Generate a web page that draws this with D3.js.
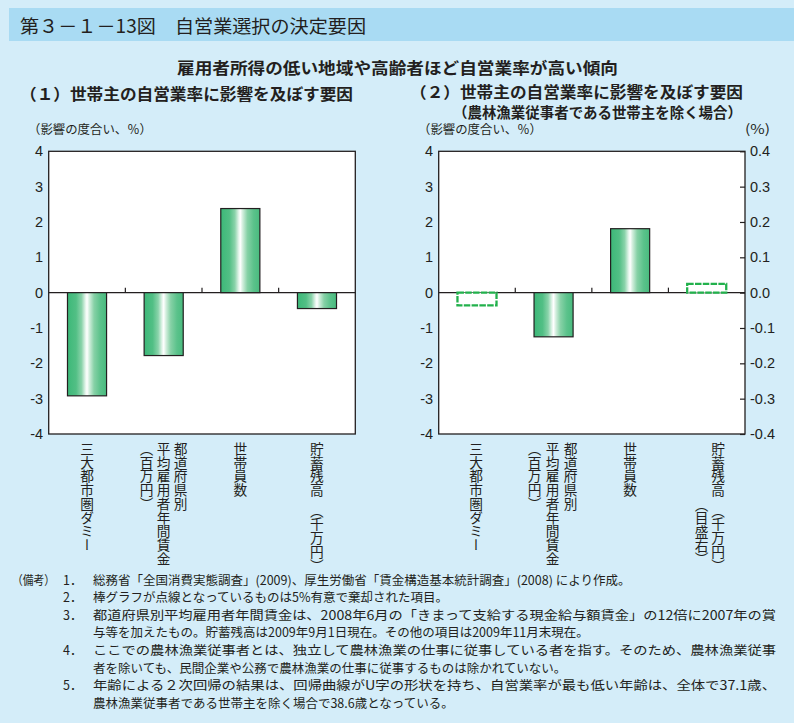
<!DOCTYPE html>
<html><head><meta charset="utf-8">
<script src="https://cdn.jsdelivr.net/npm/d3@7"></script>
<style>
body{margin:0;background:#d4edf9;}
svg{display:block}
</style>
</head><body>
<svg id="c" width="794" height="723"></svg>
<script>
// ---------- data ----------
const categories = ["三大都市圏ダミー", "都道府県別平均雇用者年間賃金（百万円）", "世帯員数", "貯蓄残高（千万円）"];
const values1 = [-2.92, -1.78, 2.38, -0.45];
const significant1 = [true, true, true, true];
const values2 = [-0.36, -1.25, 1.81, 0.025];
const significant2 = [false, true, true, false];
const rightAxis2 = [false, false, false, true];
const leftTicks = [-4, -3, -2, -1, 0, 1, 2, 3, 4];
const rightTicks = [-0.4, -0.3, -0.2, -0.1, 0, 0.1, 0.2, 0.3, 0.4];
const labelCols1 = [["三大都市圏ダミー"], ["都道府県別", "平均雇用者年間賃金", "（百万円）"], ["世帯員数"], ["貯蓄残高　（千万円）"]];
const labelCols2 = [["三大都市圏ダミー"], ["都道府県別", "平均雇用者年間賃金", "（百万円）"], ["世帯員数"], ["貯蓄残高　（千万円）", "（目盛右）"]];
const notes = [
  ["1．", "総務省「全国消費実態調査」(2009)、厚生労働省「賃金構造基本統計調査」(2008) により作成。"],
  ["2．", "棒グラフが点線となっているものは5%有意で棄却された項目。"],
  ["3．", "都道府県別平均雇用者年間賃金は、2008年6月の「きまって支給する現金給与額賃金」の12倍に2007年の賞"],
  ["", "与等を加えたもの。貯蓄残高は2009年9月1日現在。その他の項目は2009年11月末現在。"],
  ["4．", "ここでの農林漁業従事者とは、独立して農林漁業の仕事に従事している者を指す。そのため、農林漁業従事"],
  ["", "者を除いても、民間企業や公務で農林漁業の仕事に従事するものは除かれていない。"],
  ["5．", "年齢による２次回帰の結果は、回帰曲線がU字の形状を持ち、自営業率が最も低い年齢は、全体で37.1歳、"],
  ["", "農林漁業従事者である世帯主を除く場合で38.6歳となっている。"]
];
const justifiedNotes = [false, false, true, false, true, false, true, false];

// ---------- setup ----------
const svg = d3.select("#c");
const JP = "'Noto Sans CJK JP','Noto Sans',sans-serif";
const NUM = "'Liberation Sans',Arial,sans-serif";
const INK = "#231f20";

svg.append("rect").attr("x", 0).attr("y", 0).attr("width", 794).attr("height", 723).attr("fill", "#d4edf9");
svg.append("rect").attr("x", 9).attr("y", 8).attr("width", 785).attr("height", 33).attr("fill", "#a9dbf3");

const defs = svg.append("defs");
const grad = defs.append("linearGradient").attr("id", "barGrad").attr("x1", "0%").attr("x2", "100%").attr("y1", "0%").attr("y2", "0%");
[[0, "#3cb878"], [0.22, "#52bf85"], [0.36, "#8ad3aa"], [0.46, "#e4f5eb"], [0.5, "#ffffff"], [0.56, "#d2eedd"], [0.68, "#86d1a6"], [0.84, "#5bc28b"], [1, "#48bb7e"]]
  .forEach(([o, c]) => grad.append("stop").attr("offset", o).attr("stop-color", c));

function txt(x, y, s, size, opts = {}) {
  const t = svg.append("text").attr("x", x).attr("y", y).text(s)
    .style("font-family", opts.family || JP).style("font-size", size + "px")
    .style("font-weight", opts.weight || "normal").attr("fill", INK);
  if (opts.anchor) t.attr("text-anchor", opts.anchor);
  if (opts.len) t.attr("textLength", opts.len).attr("lengthAdjust", "spacingAndGlyphs");
  return t;
}

// titles
txt(20, 33, "第３－１－13図　自営業選択の決定要因", 18.5, {len: 346});
txt(177, 74, "雇用者所得の低い地域や高齢者ほど自営業率が高い傾向", 16, {weight: "bold", len: 441});
txt(20, 100, "（１）世帯主の自営業率に影響を及ぼす要因", 16, {weight: "bold", len: 333});
txt(410, 98, "（２）世帯主の自営業率に影響を及ぼす要因", 15.5, {weight: "bold", len: 333});
txt(453, 117.5, "（農林漁業従事者である世帯主を除く場合）", 14.5, {weight: "bold", len: 289});
txt(28, 134, "（影響の度合い、％）", 12.5, {len: 124});
txt(418, 134, "（影響の度合い、％）", 12.5, {len: 124});
txt(745, 134, "(%)", 13, {len: 25});

// ---------- panels ----------
const TOP = 151.3, BOTTOM = 434;
const y = d3.scaleLinear().domain([-4, 4]).range([BOTTOM, TOP]);
const yR = d3.scaleLinear().domain([-0.4, 0.4]).range([BOTTOM, TOP]);

function panel(left, right, values, sig, onRight, labelCols, withRightAxis, labelOffsets) {
  const g = svg.append("g");
  const x = d3.scaleBand().domain(categories).range([left, right]).paddingInner(0.49).paddingOuter(0.245);
  g.append("rect").attr("x", left).attr("y", TOP).attr("width", right - left).attr("height", BOTTOM - TOP)
    .attr("fill", "#fff").attr("stroke", INK).attr("stroke-width", 1.3);
  // zero line
  g.append("line").attr("x1", left).attr("x2", right).attr("y1", y(0)).attr("y2", y(0))
    .attr("stroke", INK).attr("stroke-width", 1.3);
  // category boundary ticks
  const step = x.step();
  d3.range(1, categories.length).forEach(i => {
    g.append("line").attr("x1", left + step * i).attr("x2", left + step * i)
      .attr("y1", y(0)).attr("y2", y(0) - 5).attr("stroke", INK).attr("stroke-width", 1.2);
  });
  // bars
  categories.forEach((c, i) => {
    const s = onRight[i] ? yR : y;
    const v = values[i];
    const r = g.append("rect").attr("x", x(c)).attr("width", x.bandwidth())
      .attr("y", Math.min(s(v), s(0))).attr("height", Math.abs(s(v) - s(0)));
    if (sig[i]) r.attr("fill", "url(#barGrad)").attr("stroke", INK).attr("stroke-width", 1.2);
    else r.attr("fill", "#fff").attr("stroke", "#22b14c").attr("stroke-width", 2.3).attr("stroke-dasharray", "6.5,1.3");
  });
  // left axis
  const ax = g.append("g").attr("transform", `translate(${left},0)`)
    .call(d3.axisLeft(y).tickValues(leftTicks).tickSizeInner(0).tickSizeOuter(0).tickPadding(5.5).tickFormat(d => String(d)));
  ax.select(".domain").remove();
  ax.selectAll("text").style("font-family", NUM).style("font-size", "14.5px").attr("fill", INK);
  if (withRightAxis) {
    const ar = g.append("g").attr("transform", `translate(${right},0)`)
      .call(d3.axisRight(yR).tickValues(rightTicks).tickSizeInner(-5).tickSizeOuter(0).tickPadding(5).tickFormat(d => d.toFixed(1)));
    ar.select(".domain").remove();
    ar.selectAll("line").attr("stroke", INK).attr("stroke-width", 1.2);
    ar.selectAll("text").style("font-family", NUM).style("font-size", "14.5px").attr("fill", INK);
  }
  // vertical category labels
  categories.forEach((c, i) => {
    const cx = x(c) + x.bandwidth() / 2;
    const cols = labelCols[i];
    const offs = labelOffsets[i];
    cols.forEach((s, j) => {
      const o = offs[j];
      const t = g.append("text").attr("x", cx + o.dx).attr("y", o.y).text(s)
        .style("writing-mode", "vertical-rl").style("font-family", JP).style("font-size", "13.7px")
        .attr("fill", INK);
      if (o.end) t.attr("text-anchor", "end");
    });
  });
}

const offs1 = [[{dx: 0, y: 442}], [{dx: 17, y: 442}, {dx: 0, y: 442}, {dx: -17, y: 442}], [{dx: 0, y: 442}], [{dx: 0, y: 442}]];
const offs2 = [[{dx: -1, y: 442}], [{dx: 17, y: 442}, {dx: -1, y: 442}, {dx: -19, y: 442}], [{dx: 0, y: 442}], [{dx: 11.5, y: 442}, {dx: -5, y: 566, end: true}]];

panel(48.7, 355.3, values1, significant1, [false, false, false, false], labelCols1, false, offs1);
panel(438.7, 745, values2, significant2, rightAxis2, labelCols2, true, offs2);

// ---------- notes ----------
txt(12, 584.5, "（備考）", 12.5, {len: 43});
notes.forEach((n, i) => {
  const yy = 584.5 + i * 17.6;
  if (n[0]) txt(63, yy, n[0], 12.5);
  const t = txt(93, yy, n[1], 12.5);
  if (justifiedNotes[i]) t.attr("textLength", 683).attr("lengthAdjust", "spacingAndGlyphs");
});
</script>
</body></html>
